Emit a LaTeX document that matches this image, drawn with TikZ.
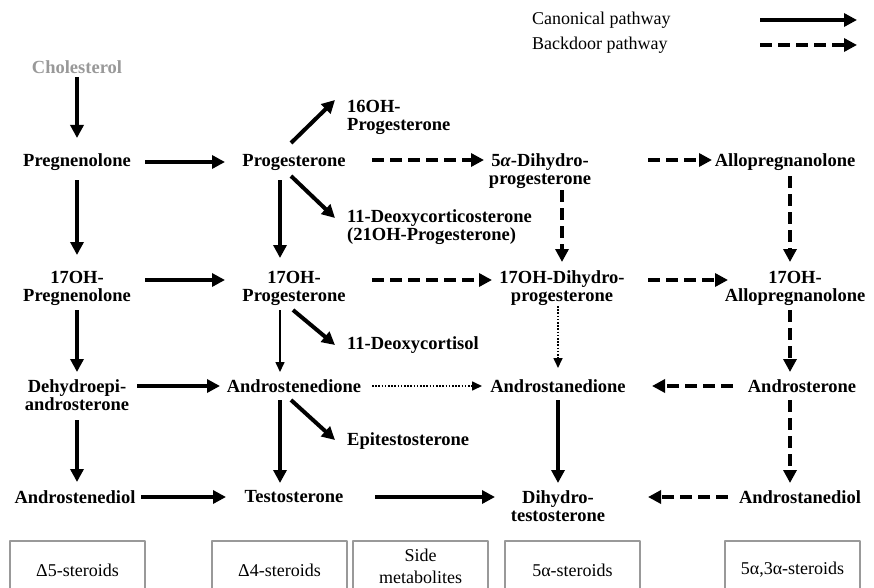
\documentclass[tikz,border=0pt]{standalone}
\usepackage{fontspec}
\setmainfont{Liberation Serif}
\usetikzlibrary{arrows.meta, calc}

\tikzset{
  steroid/.style={inner sep=0pt, align=center, font=\fontsize{18.5}{18}\selectfont\bfseries},
  side/.style={steroid, align=left, anchor=west},
  canon/.style={line width=4pt, -{Triangle[length=13pt, width=13pt]}},
  backdoor/.style={canon, dash pattern=on 12pt off 6pt},
  minor/.style={line width=1.6pt, -{Triangle[length=10pt, width=9pt]}},
  dotline/.style={minor, dash pattern=on 1.6pt off 1.6pt},
  group/.style={draw=gray!80, line width=1.2pt, minimum width=135pt, minimum height=58pt,
    inner sep=0pt, align=center, font=\fontsize{18}{22}\selectfont},
}

\begin{document}
\begin{tikzpicture}[x=1pt, y=-1pt, line join=round]
    \useasboundingbox (0,0) rectangle (874,588);

    % Legend
    \node[anchor=west, inner sep=0pt, font=\fontsize{18}{18}\selectfont] (lcanon) at (532,20) {Canonical pathway};
    \node[anchor=west, inner sep=0pt, font=\fontsize{18}{18}\selectfont] (lback) at (532,45) {Backdoor pathway};
    \coordinate (lc1) at (760,20);
    \coordinate (lc2) at (857,20);
    \coordinate (lb1) at (760,45);
    \coordinate (lb2) at (857,45);
    \draw[canon] (lc1) -- (lc2);
    \draw[backdoor] (lb1) -- (lb2);

    % Steroids, column by column
    \node[steroid, text=gray!80] (chol) at (77,67) {Cholesterol};
    \node[steroid] (preg)   at (77,162)  {Pregnenolone};
    \node[steroid] (ohpreg) at (77,288)  {17OH-\\Pregnenolone};
    \node[steroid] (dhea)   at (77,395)  {Dehydroepi-\\androsterone};
    \node[steroid] (adiol)  at (75,497)  {Androstenediol};

    \node[steroid] (prog)   at (294,162) {Progesterone};
    \node[steroid] (ohprog) at (294,288) {17OH-\\Progesterone};
    \node[steroid] (andro)  at (294,386) {Androstenedione};
    \node[steroid] (testo)  at (294,497) {Testosterone};

    \node[steroid] (dhp)    at (540,171) {5\textit{α}-Dihydro-\\progesterone};
    \node[steroid] (ohdhp)  at (562,288) {17OH-Dihydro-\\progesterone};
    \node[steroid] (adione) at (558,386) {Androstanedione};
    \node[steroid] (dht)    at (558,506) {Dihydro-\\testosterone};

    \node[steroid] (allo)     at (785,162) {Allopregnanolone};
    \node[steroid] (ohallo)   at (795,288) {17OH-\\Allopregnanolone};
    \node[steroid] (asterone) at (802,386) {Androsterone};
    \node[steroid] (astdiol)  at (800,497) {Androstanediol};

    % Side metabolites
    \node[side] (oh16) at (347,117) {16OH-\\Progesterone};
    \node[side] (doc)  at (347,227) {11-Deoxycorticosterone\\(21OH-Progesterone)};
    \node[side] (dcort) at (347,345) {11-Deoxycortisol};
    \node[side] (epi)  at (347,441) {Epitestosterone};

    % Canonical pathway
    \draw[canon] ($(chol)+(0,10)$) -- ($(preg)+(0,-24)$);
    \draw[canon] ($(preg)+(0,18)$) -- ($(ohpreg)+(0,-33)$);
    \draw[canon] ($(ohpreg)+(0,22)$) -- ($(dhea)+(0,-23)$);
    \draw[canon] ($(dhea)+(0,25)$) -- ($(adiol)+(2,-15)$);
    \draw[canon] ($(preg)+(68,0)$) -- ($(prog)+(-69,0)$);
    \draw[canon] ($(ohpreg)+(68,-8)$) -- ($(ohprog)+(-69,-8)$);
    \draw[canon] ($(dhea)+(60,-9)$) -- ($(andro)+(-74,0)$);
    \draw[canon] ($(adiol)+(66,0)$) -- ($(testo)+(-68,0)$);
    \draw[canon] ($(prog)+(-14,18)$) -- ($(ohprog)+(-14,-30)$);
    \draw[minor] ($(ohprog)+(-14,22)$) -- ($(andro)+(-14,-14)$);
    \draw[canon] ($(andro)+(-14,14)$) -- ($(testo)+(-14,-14)$);
    \draw[canon] ($(testo)+(81,0)$) -- ($(dht)+(-63,-9)$);
    \draw[canon] ($(adione)+(0,14)$) -- ($(dht)+(0,-23)$);

    % Side branches
    \draw[canon] ($(prog)+(-3,-19)$) -- ($(oh16.west)+(-12,-17)$);
    \draw[canon] ($(prog)+(-3,14)$) -- ($(doc.west)+(-12,-9)$);
    \draw[canon] ($(ohprog)+(-1,22)$) -- ($(dcort.west)+(-12,0)$);
    \draw[canon] ($(andro)+(-3,14)$) -- ($(epi.west)+(-12,-1)$);

    % Backdoor pathway
    \draw[backdoor] ($(prog)+(78,-2)$) -- ($(dhp)+(-56,-11)$);
    \draw[backdoor] ($(dhp)+(108,-11)$) -- ($(allo)+(-73,-2)$);
    \draw[backdoor] ($(ohprog)+(78,-8)$) -- ($(ohdhp)+(-70,-8)$);
    \draw[backdoor] ($(ohdhp)+(86,-8)$) -- ($(ohallo)+(-67,-8)$);
    \draw[backdoor] ($(dhp)+(22,19)$) -- ($(ohdhp)+(0,-26)$);
    \draw[backdoor] ($(allo)+(5,14)$) -- ($(ohallo)+(-5,-26)$);
    \draw[backdoor] ($(ohallo)+(-5,22)$) -- ($(asterone)+(-12,-14)$);
    \draw[backdoor] ($(asterone)+(-12,14)$) -- ($(astdiol)+(-10,-14)$);
    \draw[backdoor] ($(asterone)+(-69,0)$) -- ($(adione)+(94,0)$);
    \draw[backdoor] ($(astdiol)+(-72,0)$) -- ($(dht)+(90,-9)$);

    % Minor routes
    \draw[dotline] ($(andro)+(78,0)$) -- ($(adione)+(-76,0)$);
    \draw[dotline] ($(ohdhp)+(-4,18)$) -- ($(adione)+(0,-18)$);

    % Steroid groups
    \node[group] (gdelta5) at (77.5,570)  {Δ5-steroids};
    \node[group] (gdelta4) at (279.5,570) {Δ4-steroids};
    \node[group, minimum height=50pt] (gside) at (420.5,566) {Side\\metabolites};
    \node[group] (galpha)  at (572.5,570) {5α-steroids};
    \node[group] (galpha3) at (792.5,570) {5α,3α-steroids};
\end{tikzpicture}
\end{document}
